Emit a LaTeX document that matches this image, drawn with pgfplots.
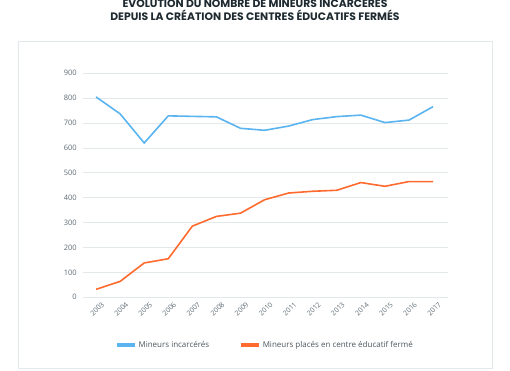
\documentclass[border=0pt]{standalone}
\usepackage{fontspec}
\setmainfont{Open Sans}
\newfontfamily\titlefont{Poppins}
\usepackage{pgfplots}
\pgfplotsset{compat=1.18}
\definecolor{cblue}{HTML}{5AB4F0}
\definecolor{corange}{HTML}{FF6A2E}
\definecolor{tickgray}{HTML}{5F6B73}
\definecolor{gridgray}{HTML}{E3E8EA}
\definecolor{titlecol}{HTML}{1E2A30}
\begin{document}
\begin{tikzpicture}[x=1pt,y=1pt]
\useasboundingbox (0,0) rectangle (510,370);
\begin{scope}
\clip (0,0) rectangle (510,370);
\draw[gridgray, line width=1pt] (18,2) rectangle (492,328);
\node[font=\titlefont\bfseries\fontsize{10.8}{13}\selectfont, text=titlecol, align=center] at (255,361.5) {ÉVOLUTION DU NOMBRE DE MINEURS INCARCÉRÉS\\DEPUIS LA CRÉATION DES CENTRES ÉDUCATIFS FERMÉS};
\end{scope}
\begin{axis}[
  at={(83.3pt,72.7pt)}, anchor=south west,
  width=364.7pt, height=224pt, scale only axis,
  xmin=2002.47, xmax=2017.62, ymin=0, ymax=900,
  axis line style={draw=none},
  major tick length=0pt,
  ymajorgrids, grid style={gridgray, line width=0.8pt},
  xtick={2003,...,2017}, ytick={0,100,...,900},
  /pgf/number format/1000 sep={},
  /pgf/number format/assume math mode=true,
  yticklabel style={font=\fontsize{7.5}{8}\selectfont, text=tickgray, xshift=-3pt},
  xticklabel style={font=\fontsize{7}{8}\selectfont, text=tickgray, rotate=45, anchor=north east, xshift=4pt, yshift=-3pt},
  legend style={at={(0.498,-0.213)}, anchor=center, draw=none, fill=none,
    font=\fontsize{8}{10}\selectfont, text=tickgray!80!black, legend columns=2,
    /tikz/every even column/.append style={column sep=28pt}},
  legend image code/.code={\draw[line width=3.5pt] (0pt,0pt) -- (18pt,0pt);},
]
\addplot[cblue, line width=1.6pt] coordinates {
(2003,805) (2004,737) (2005,620) (2006,729) (2007,727) (2008,725) (2009,679) (2010,671)
(2011,688) (2012,714) (2013,726) (2014,732) (2015,702) (2016,712) (2017,766)};
\addlegendentry{Mineurs incarcérés}
\addplot[corange, line width=1.6pt] coordinates {
(2003,32) (2004,64) (2005,138) (2006,155) (2007,286) (2008,325) (2009,338) (2010,392)
(2011,419) (2012,426) (2013,430) (2014,461) (2015,446) (2016,465) (2017,465)};
\addlegendentry{Mineurs placés en centre éducatif fermé}
\end{axis}
\end{tikzpicture}
\end{document}
